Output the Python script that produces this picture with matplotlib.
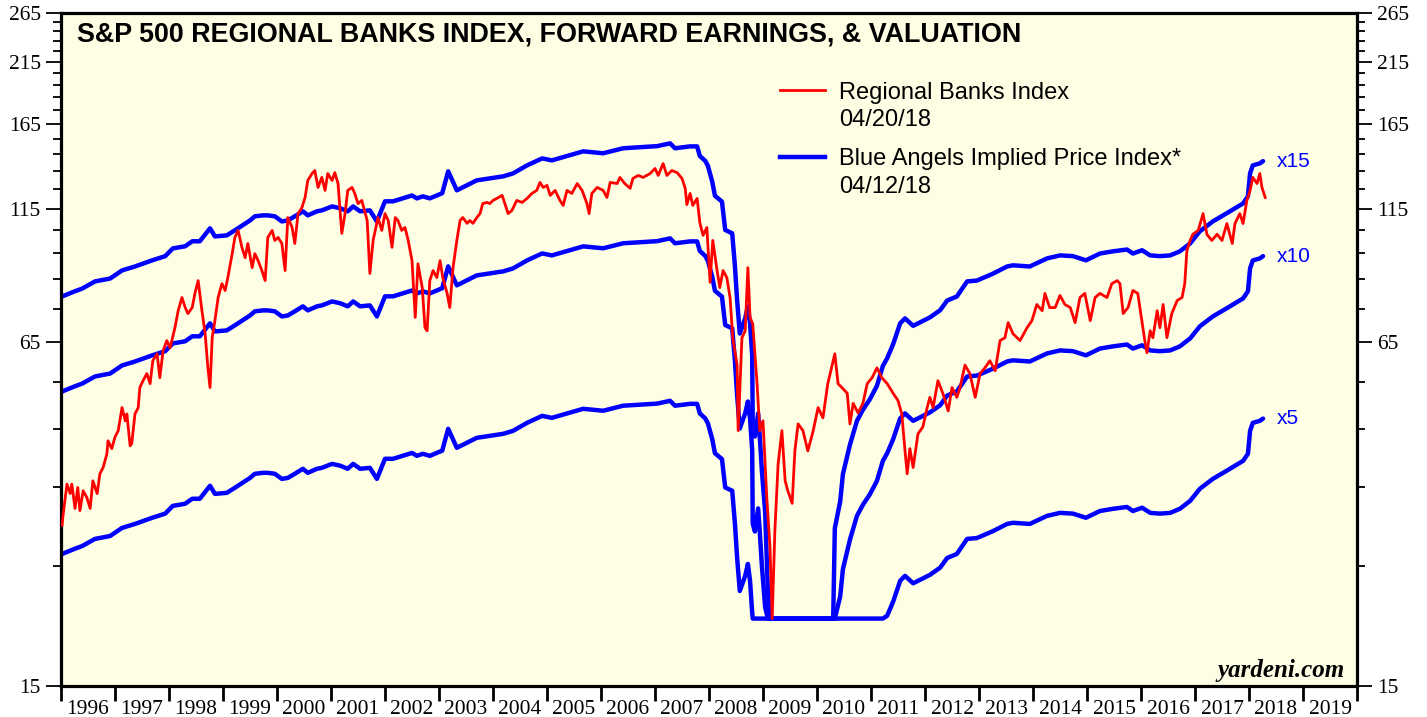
import numpy as np
import matplotlib
matplotlib.use('Agg')
import matplotlib.pyplot as plt
from matplotlib.lines import Line2D
from matplotlib.ticker import FixedLocator, FixedFormatter, NullFormatter

plt.rcParams['font.family'] = ['Liberation Serif', 'DejaVu Serif']
SANS = ['Liberation Sans', 'DejaVu Sans']

# S&P 500 Regional Banks index
bank_year = [
    1996.02, 1996.04, 1996.11, 1996.17, 1996.20, 1996.26, 1996.31, 1996.35, 1996.41, 1996.48,
    1996.54, 1996.59, 1996.67, 1996.72, 1996.78, 1996.85, 1996.87, 1996.94, 1997.00, 1997.06,
    1997.13, 1997.19, 1997.22, 1997.28, 1997.31, 1997.37, 1997.43, 1997.46, 1997.52, 1997.59,
    1997.65, 1997.70, 1997.78, 1997.83, 1997.89, 1997.96, 1998.02, 1998.11, 1998.17, 1998.24,
    1998.30, 1998.35, 1998.43, 1998.48, 1998.54, 1998.61, 1998.67, 1998.72, 1998.76, 1998.80,
    1998.85, 1998.91, 1998.98, 1999.04, 1999.09, 1999.17, 1999.22, 1999.28, 1999.35, 1999.41,
    1999.46, 1999.54, 1999.59, 1999.65, 1999.72, 1999.78, 1999.83, 1999.91, 1999.96, 2000.02,
    2000.09, 2000.15, 2000.20, 2000.28, 2000.33, 2000.39, 2000.46, 2000.52, 2000.57, 2000.65,
    2000.70, 2000.76, 2000.83, 2000.89, 2000.94, 2001.02, 2001.07, 2001.13, 2001.20, 2001.26,
    2001.31, 2001.39, 2001.44, 2001.50, 2001.57, 2001.67, 2001.72, 2001.78, 2001.87, 2001.94,
    2002.00, 2002.06, 2002.13, 2002.19, 2002.24, 2002.31, 2002.37, 2002.43, 2002.50, 2002.56,
    2002.61, 2002.69, 2002.74, 2002.78, 2002.83, 2002.89, 2002.96, 2003.02, 2003.07, 2003.15,
    2003.20, 2003.26, 2003.33, 2003.39, 2003.44, 2003.52, 2003.57, 2003.63, 2003.70, 2003.76,
    2003.81, 2003.89, 2003.94, 2004.00, 2004.07, 2004.17, 2004.22, 2004.28, 2004.35, 2004.44,
    2004.54, 2004.63, 2004.72, 2004.81, 2004.87, 2004.93, 2005.00, 2005.06, 2005.15, 2005.24,
    2005.30, 2005.37, 2005.46, 2005.56, 2005.65, 2005.74, 2005.78, 2005.83, 2005.93, 2006.04,
    2006.11, 2006.17, 2006.30, 2006.35, 2006.44, 2006.54, 2006.59, 2006.69, 2006.78, 2006.91,
    2007.00, 2007.06, 2007.15, 2007.22, 2007.31, 2007.41, 2007.50, 2007.56, 2007.59, 2007.65,
    2007.70, 2007.78, 2007.83, 2007.89, 2007.96, 2008.02, 2008.07, 2008.15, 2008.20, 2008.26,
    2008.33, 2008.39, 2008.44, 2008.52, 2008.54, 2008.61, 2008.67, 2008.72, 2008.76, 2008.81,
    2008.89, 2008.94, 2009.00, 2009.07, 2009.13, 2009.17, 2009.22, 2009.28, 2009.35, 2009.41,
    2009.46, 2009.54, 2009.59, 2009.65, 2009.74, 2009.83, 2009.93, 2010.02, 2010.11, 2010.20,
    2010.28, 2010.33, 2010.39, 2010.46, 2010.56, 2010.61, 2010.67, 2010.76, 2010.85, 2010.93,
    2011.02, 2011.11, 2011.20, 2011.30, 2011.41, 2011.50, 2011.57, 2011.63, 2011.67, 2011.72,
    2011.78, 2011.87, 2011.96, 2012.04, 2012.09, 2012.15, 2012.24, 2012.33, 2012.43, 2012.50,
    2012.59, 2012.65, 2012.74, 2012.83, 2012.93, 2013.02, 2013.11, 2013.20, 2013.30, 2013.39,
    2013.48, 2013.54, 2013.63, 2013.76, 2013.89, 2013.98, 2014.07, 2014.17, 2014.22, 2014.31,
    2014.41, 2014.50, 2014.59, 2014.69, 2014.78, 2014.87, 2014.96, 2015.06, 2015.15, 2015.24,
    2015.37, 2015.46, 2015.56, 2015.61, 2015.67, 2015.76, 2015.85, 2015.94, 2016.02, 2016.07,
    2016.11, 2016.17, 2016.22, 2016.30, 2016.35, 2016.41, 2016.48, 2016.57, 2016.67, 2016.76,
    2016.81, 2016.85, 2016.91, 2016.96, 2017.06, 2017.15, 2017.22, 2017.31, 2017.41, 2017.50,
    2017.59, 2017.69, 2017.74, 2017.83, 2017.89, 2017.96, 2018.02, 2018.07, 2018.15, 2018.20,
    2018.24, 2018.30,
]
bank_index = [
    29.8, 31.2, 35.5, 34.1, 35.5, 32.0, 35.0, 31.7, 34.5, 33.5,
    32.0, 36.0, 34.1, 37.1, 38.1, 40.4, 42.7, 41.3, 43.4, 44.6,
    49.2, 46.5, 47.9, 41.8, 42.2, 47.9, 49.2, 53.6, 55.2, 56.9,
    54.5, 60.1, 61.9, 55.9, 62.7, 65.5, 63.5, 69.2, 74.4, 78.7,
    75.4, 73.5, 75.4, 80.1, 84.6, 74.4, 67.4, 58.3, 53.6, 66.3,
    71.3, 78.7, 83.5, 81.1, 85.7, 94.9, 101.7, 104.8, 97.5, 93.3,
    99.1, 89.4, 94.9, 92.1, 88.3, 84.6, 101.7, 104.8, 100.4, 101.7,
    99.1, 88.3, 110.7, 106.1, 99.1, 112.6, 115.4, 120.6, 129.7, 133.6,
    135.3, 125.9, 131.4, 124.3, 133.6, 129.7, 134.1, 128.0, 103.5, 112.6,
    124.3, 125.9, 122.7, 117.5, 119.1, 109.3, 87.2, 100.4, 110.7, 104.8,
    112.6, 109.3, 97.5, 110.7, 109.3, 104.8, 106.1, 100.4, 92.1, 72.3,
    90.9, 82.1, 69.2, 68.3, 84.6, 88.3, 85.7, 92.1, 85.7, 80.1,
    75.4, 89.4, 100.4, 109.3, 110.7, 108.0, 109.3, 108.0, 110.7, 112.6,
    117.5, 118.1, 117.5, 119.1, 120.1, 121.7, 117.5, 112.6, 114.1, 119.1,
    118.1, 120.1, 122.7, 124.3, 128.6, 125.9, 127.0, 121.7, 124.3, 119.1,
    116.6, 124.3, 122.7, 128.0, 124.3, 117.5, 112.6, 122.7, 125.9, 124.3,
    120.6, 128.6, 128.0, 131.4, 128.0, 125.4, 130.8, 132.5, 131.4, 133.6,
    136.5, 132.5, 139.4, 132.5, 135.3, 134.1, 130.8, 125.4, 117.0, 122.7,
    116.6, 120.1, 108.4, 102.6, 106.1, 84.0, 100.4, 88.3, 82.1, 88.3,
    85.7, 78.7, 66.3, 59.0, 44.6, 66.3, 68.3, 89.4, 72.3, 70.3,
    54.5, 44.6, 46.5, 33.5, 27.1, 20.0, 29.1, 38.7, 44.6, 36.0,
    34.5, 32.7, 40.9, 45.9, 44.6, 40.9, 44.6, 49.2, 47.1, 54.5,
    59.0, 61.9, 54.5, 53.6, 52.3, 45.9, 50.1, 48.1, 50.1, 54.5,
    55.9, 58.3, 55.9, 54.5, 52.3, 50.7, 47.9, 40.9, 37.1, 41.3,
    38.1, 44.0, 45.3, 49.2, 51.4, 49.2, 55.2, 52.3, 48.5, 53.6,
    51.4, 53.6, 59.0, 56.9, 51.4, 56.9, 58.3, 60.1, 57.6, 65.5,
    66.3, 70.7, 67.4, 65.5, 69.2, 71.3, 76.4, 74.4, 80.1, 75.4,
    75.4, 79.4, 76.4, 75.4, 70.7, 78.7, 80.1, 71.3, 78.7, 80.1,
    78.7, 83.5, 84.6, 83.5, 73.5, 75.4, 81.1, 80.1, 70.7, 65.5,
    62.2, 68.3, 66.3, 74.4, 69.2, 76.4, 66.3, 73.5, 77.7, 78.7,
    83.5, 96.2, 100.4, 103.1, 104.8, 112.6, 103.1, 100.4, 103.1, 100.4,
    107.9, 99.1, 107.9, 112.6, 107.9, 119.1, 124.3, 131.4, 128.0, 133.6,
    125.9, 120.6,
]

# forward earnings behind the Blue Angels implied price lines (index = multiple x earnings)
earn_year = [
    1996.02, 1996.26, 1996.39, 1996.63, 1996.91, 1997.13, 1997.37, 1997.69, 1997.93, 1998.07,
    1998.30, 1998.43, 1998.57, 1998.76, 1998.85, 1999.07, 1999.22, 1999.50, 1999.59, 1999.74,
    1999.83, 1999.96, 2000.09, 2000.20, 2000.33, 2000.48, 2000.57, 2000.74, 2000.83, 2001.02,
    2001.17, 2001.31, 2001.41, 2001.54, 2001.72, 2001.85, 2002.00, 2002.15, 2002.50, 2002.59,
    2002.70, 2002.83, 2003.06, 2003.17, 2003.33, 2003.70, 2004.19, 2004.37, 2004.63, 2004.91,
    2005.09, 2005.67, 2006.04, 2006.41, 2007.04, 2007.28, 2007.37, 2007.65, 2007.78, 2007.83,
    2007.93, 2007.98, 2008.06, 2008.11, 2008.24, 2008.30, 2008.43, 2008.48, 2008.52, 2008.57,
    2008.67, 2008.72, 2008.76, 2008.80, 2008.81, 2008.85, 2008.91, 2008.94, 2008.98, 2009.04,
    2009.09, 2009.13, 2009.50, 2009.87, 2010.24, 2010.30, 2010.33, 2010.43, 2010.48, 2010.61,
    2010.74, 2010.85, 2010.98, 2011.11, 2011.22, 2011.30, 2011.41, 2011.54, 2011.63, 2011.78,
    2011.91, 2012.09, 2012.28, 2012.41, 2012.59, 2012.78, 2012.96, 2013.26, 2013.52, 2013.63,
    2013.94, 2014.26, 2014.50, 2014.74, 2014.98, 2015.24, 2015.48, 2015.74, 2015.85, 2016.02,
    2016.17, 2016.35, 2016.54, 2016.72, 2016.91, 2017.09, 2017.33, 2017.59, 2017.89, 2017.98,
    2018.02, 2018.07, 2018.20, 2018.26,
]
fwd_earnings = [
    5.27, 5.39, 5.45, 5.62, 5.69, 5.89, 5.99, 6.15, 6.26, 6.47,
    6.53, 6.67, 6.67, 7.05, 6.81, 6.84, 6.99, 7.29, 7.42, 7.45,
    7.45, 7.42, 7.26, 7.29, 7.42, 7.58, 7.45, 7.58, 7.61, 7.74,
    7.68, 7.58, 7.74, 7.58, 7.61, 7.26, 7.91, 7.91, 8.11, 8.01,
    8.08, 8.01, 8.19, 8.99, 8.29, 8.65, 8.80, 8.91, 9.22, 9.50,
    9.42, 9.79, 9.71, 9.92, 10.01, 10.13, 9.92, 10.0, 10.0, 9.6,
    9.4, 9.2, 8.6, 8.1, 7.9, 7.0, 6.9, 6.0, 5.2, 4.5,
    4.8, 5.05, 4.7, 4.1, 3.0, 2.9, 3.2, 2.9, 2.5, 2.1,
    1.5, 1.1, 0.8, 0.8, 1.0, 1.3, 1.96, 2.2, 2.47, 2.8,
    3.1, 3.25, 3.4, 3.6, 3.92, 4.05, 4.3, 4.7, 4.8, 4.65,
    4.72, 4.82, 4.97, 5.18, 5.27, 5.62, 5.64, 5.81, 5.99, 6.02,
    5.99, 6.20, 6.28, 6.26, 6.15, 6.33, 6.39, 6.44, 6.33, 6.42,
    6.28, 6.26, 6.28, 6.39, 6.61, 6.96, 7.26, 7.52, 7.84, 8.08,
    8.91, 9.22, 9.30, 9.39,
]
multiples = [5, 10, 15]
floor_value = 20

y_ticks = [15, 65, 115, 165, 215, 265]
y_minor = [v for v in range(25, 265, 10) if v not in y_ticks]
years = list(range(1996, 2020))

fig = plt.figure(figsize=(14.27, 7.17), dpi=100)
ax = fig.add_axes([61 / 1427, 31 / 717, 1296 / 1427, 673 / 717])
ax.set_facecolor('#fefee4')
ax.set_yscale('log')

fe = np.array(fwd_earnings)
for m in multiples:
    ax.plot(earn_year, np.maximum(fe * m, floor_value), color='#0000ff', lw=3.2,
            solid_capstyle='round', solid_joinstyle='round', zorder=2)
    ax.text(earn_year[-1] + 0.26, fe[-1] * m, 'x%d' % m, color='#0000ff',
            fontsize=15, family=SANS, va='center', ha='left')

ax.plot(bank_year, bank_index, color='#ff0000', lw=2.0, zorder=3)

ax.set_xlim(1996, 2020)
ax.set_ylim(15, 265)

ax.yaxis.set_major_locator(FixedLocator(y_ticks))
ax.yaxis.set_major_formatter(FixedFormatter([str(v) for v in y_ticks]))
ax.yaxis.set_minor_locator(FixedLocator(y_minor))
ax.yaxis.set_minor_formatter(NullFormatter())
ax.tick_params(axis='y', which='both', direction='out', left=True, right=True,
               labelleft=True, labelright=True, width=1.3, color='black')
ax.tick_params(axis='y', which='major', length=11, pad=3.5, labelsize=15.5)
ax.tick_params(axis='y', which='minor', length=6)

ax.xaxis.set_major_locator(FixedLocator(list(range(1996, 2021))))
ax.xaxis.set_major_formatter(NullFormatter())
ax.xaxis.set_minor_locator(FixedLocator([y + 0.5 for y in years]))
ax.xaxis.set_minor_formatter(FixedFormatter([str(y) for y in years]))
ax.tick_params(axis='x', which='major', direction='out', length=11, width=2)
ax.tick_params(axis='x', which='minor', length=0, pad=10, labelsize=15.5)

for s in ax.spines.values():
    s.set_linewidth(2.3)

ax.text(0.0123, 0.957, 'S&P 500 REGIONAL BANKS INDEX, FORWARD EARNINGS, & VALUATION',
        transform=ax.transAxes, fontsize=19.4, fontweight='bold', family=SANS,
        ha='left', va='baseline')

# legend
ax.add_line(Line2D([0.5548, 0.5895], [0.8856, 0.8856], transform=ax.transAxes,
                   color='#ff0000', lw=2.0))
ax.add_line(Line2D([0.5548, 0.5895], [0.786, 0.786], transform=ax.transAxes,
                   color='#0000ff', lw=3.2))
leg_text = [('Regional Banks Index', 0.8722), ('04/20/18', 0.832),
            ('Blue Angels Implied Price Index*', 0.7741), ('04/12/18', 0.7325)]
for txt, yy in leg_text:
    ax.text(0.6003, yy, txt, transform=ax.transAxes, fontsize=17, family=SANS,
            ha='left', va='baseline')

ax.text(0.9907, 0.0134, 'yardeni.com', transform=ax.transAxes, fontsize=18,
        fontweight='bold', fontstyle='italic', ha='right', va='baseline')

fig.savefig('out.png', dpi=100, facecolor='white')
